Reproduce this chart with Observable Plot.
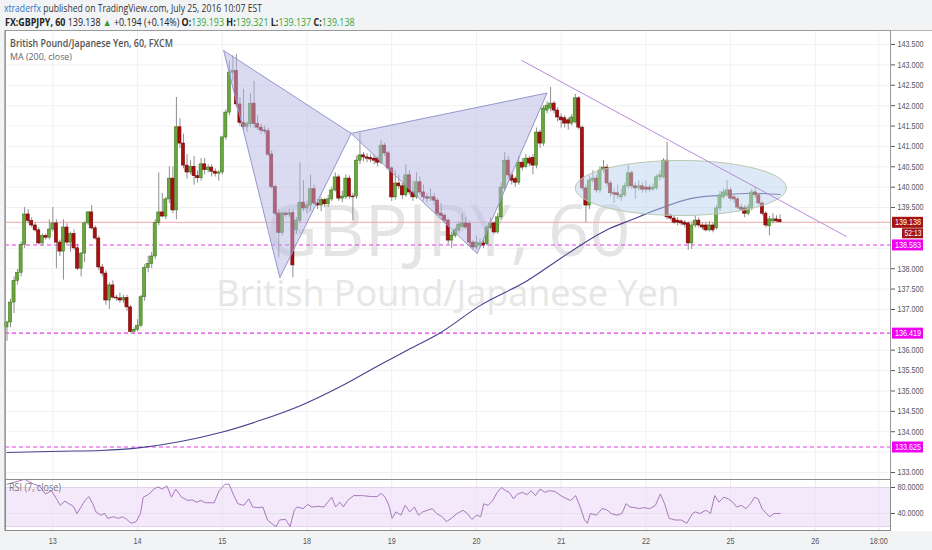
<!DOCTYPE html>
<html><head><meta charset="utf-8">
<script src="https://cdn.jsdelivr.net/npm/d3@7"></script>
<script src="https://cdn.jsdelivr.net/npm/@observablehq/plot@0.6"></script>
<style>
html,body{margin:0;padding:0;background:#f1f3f5;width:932px;height:550px;overflow:hidden;font-family:"Open Sans",sans-serif}
#wrap{position:relative;width:932px;height:550px}
.abs{position:absolute;left:0}
#bg{position:absolute;left:4px;top:30px;width:927px;height:500px;background:#fff;border-top:1px solid #b5b5b5;border-left:1px solid #b5b5b5;border-right:1px solid #d0d0d0}
</style></head><body><div id="wrap">
<div id="bg"></div>
<svg id="hdr" class="abs" style="top:0" width="932" height="30"></svg>
<div id="price" class="abs" style="top:30px"></div>
<div id="rsi" class="abs" style="top:479px"></div>
<svg id="lbl" class="abs" style="top:0;pointer-events:none" width="932" height="550"></svg>
</div>
<script>
// ---------- data ----------
const open = [136.56,136.68,137.17,137.70,137.90,138.58,139.33,139.17,139.06,138.94,138.62,138.80,138.76,138.96,139.11,138.64,138.42,139.01,138.64,138.85,138.50,138.00,138.37,139.11,139.38,138.99,138.74,138.03,137.88,137.22,137.59,137.29,137.27,137.22,137.28,137.05,136.45,136.50,136.60,137.30,138.02,138.12,138.30,139.12,139.38,139.28,139.70,140.21,139.43,141.47,141.07,140.53,140.36,140.50,140.27,140.22,140.56,140.42,140.48,140.38,140.33,140.36,141.22,141.83,142.81,142.85,142.03,141.58,141.48,141.55,142.05,141.55,141.46,141.39,141.37,140.80,140.00,139.35,138.88,139.35,139.32,139.36,138.95,139.18,139.62,139.48,139.55,139.95,139.60,139.55,139.68,139.58,139.70,139.92,140.24,139.72,139.75,140.21,139.77,139.77,140.65,140.78,140.73,140.72,140.70,140.70,140.60,141.02,140.83,140.46,139.75,140.09,140.02,139.80,140.29,139.87,139.75,140.12,139.87,139.75,139.72,139.75,139.67,139.35,139.30,139.18,138.69,138.81,138.94,139.03,139.11,139.10,138.64,138.52,138.57,138.62,138.60,139.00,139.11,138.89,139.26,139.97,140.65,140.29,140.20,140.11,140.60,140.50,140.70,140.72,140.53,141.34,141.07,141.88,141.93,142.05,141.88,141.71,141.69,141.64,141.56,141.59,142.18,141.46,139.97,139.55,140.16,140.21,139.92,140.41,140.48,140.09,139.85,139.85,139.75,139.80,140.02,140.34,140.02,139.97,140.02,139.99,139.99,139.94,139.97,140.24,140.24,140.65,139.30,139.23,139.18,139.16,139.13,139.11,138.62,139.06,139.18,139.06,139.06,138.94,139.06,138.99,139.48,139.75,139.80,139.92,139.75,139.70,139.50,139.48,139.35,139.48,139.87,139.80,139.60,139.35,139.04,139.16,139.21,139.193];
const high = [136.70,137.25,137.80,137.98,138.65,139.50,139.45,139.25,139.12,139.00,138.85,138.85,139.20,139.50,139.20,138.70,139.20,139.10,138.90,138.95,138.60,138.40,139.15,139.40,139.55,139.05,138.80,138.10,137.95,137.65,137.70,137.35,137.40,137.35,137.35,137.10,136.55,136.75,137.35,138.10,138.30,138.40,139.20,140.35,139.85,139.75,140.50,140.50,142.20,141.68,141.30,140.80,140.65,140.75,140.40,140.70,140.70,140.55,140.55,140.45,140.40,141.25,141.90,143.10,143.22,143.25,142.20,142.40,141.60,142.30,142.60,141.75,141.55,141.50,141.45,140.90,140.05,139.45,139.40,139.40,139.45,139.45,139.25,140.60,140.16,139.65,140.30,140.05,139.70,139.75,139.72,139.80,140.00,140.35,140.30,139.90,140.30,140.28,139.85,140.75,141.32,140.85,140.82,140.80,140.80,140.75,141.15,141.08,140.88,140.50,140.40,140.30,140.10,140.55,140.40,140.15,140.35,140.25,140.05,139.85,139.95,139.85,139.72,139.60,139.35,139.22,138.90,139.00,139.15,139.35,139.25,139.15,138.68,138.80,138.72,138.70,139.05,139.25,139.15,139.35,140.10,140.85,140.75,140.35,140.25,140.75,140.70,140.80,140.75,140.80,141.45,141.40,142.00,142.10,142.45,142.10,141.95,141.80,141.75,141.70,141.78,142.28,142.22,141.50,140.05,140.25,140.40,140.30,140.50,140.65,140.55,140.15,139.95,140.05,139.95,140.10,140.55,140.40,140.10,140.15,140.10,140.15,140.05,140.08,140.30,140.40,140.70,141.10,139.35,139.28,139.25,139.20,139.18,139.15,139.15,139.30,139.25,139.12,139.12,139.15,139.12,139.55,139.90,139.95,140.16,139.98,139.82,139.75,139.58,139.55,139.58,139.95,140.00,139.85,139.65,139.40,139.28,139.35,139.30,139.321];
const low = [136.22,136.55,136.90,137.60,137.80,138.50,139.10,139.00,138.90,138.58,138.55,138.70,138.70,138.90,138.00,138.30,137.72,138.55,138.40,138.45,137.95,137.80,138.15,139.05,138.95,138.70,137.95,137.80,137.10,137.00,137.25,137.20,137.15,137.15,136.95,136.42,136.42,136.45,136.55,137.20,137.90,138.00,138.22,139.05,139.25,139.20,139.60,139.35,139.20,140.95,140.45,140.20,140.30,140.05,140.10,140.15,140.30,140.35,140.25,140.25,140.15,140.30,141.15,141.75,142.60,141.95,141.50,141.40,141.35,141.45,141.45,141.40,141.30,141.30,140.75,139.95,139.30,138.27,138.80,139.25,139.25,137.78,138.85,139.10,139.40,139.35,139.40,139.55,139.45,139.40,139.50,139.50,139.65,139.88,139.65,139.62,139.70,139.70,139.18,139.70,140.55,140.62,140.60,140.60,140.55,140.50,140.55,140.75,140.40,139.65,139.68,139.95,139.70,139.75,139.80,139.65,139.70,139.80,139.65,139.62,139.65,139.55,139.30,139.20,139.10,138.60,138.50,138.75,138.90,139.00,138.95,138.58,138.45,138.46,138.50,138.50,138.55,138.95,138.85,138.85,139.20,139.90,140.20,140.05,140.00,140.05,140.40,140.45,140.50,140.30,140.45,140.95,141.00,141.80,141.85,141.80,141.60,141.45,141.45,141.40,141.50,141.55,141.40,139.90,139.13,139.45,140.10,139.85,139.85,140.35,140.00,139.75,139.60,139.70,139.65,139.75,139.95,139.95,139.70,139.90,139.85,139.85,139.88,139.90,139.92,140.15,140.20,139.20,139.18,139.08,139.05,139.05,139.00,138.45,138.47,139.00,139.00,138.95,138.90,138.90,138.88,138.95,139.40,139.70,139.75,139.65,139.60,139.45,139.40,139.25,139.30,139.42,139.72,139.55,139.30,139.00,138.81,139.10,139.12,139.137];
const close = [136.68,137.17,137.70,137.90,138.58,139.33,139.17,139.06,138.94,138.62,138.80,138.76,138.96,139.11,138.64,138.42,139.01,138.64,138.85,138.50,138.00,138.37,139.11,139.38,138.99,138.74,138.03,137.88,137.22,137.59,137.29,137.27,137.22,137.28,137.05,136.45,136.50,136.60,137.30,138.02,138.12,138.30,139.12,139.38,139.28,139.70,140.21,139.43,141.47,141.07,140.53,140.36,140.50,140.27,140.22,140.56,140.42,140.48,140.38,140.33,140.36,141.22,141.83,142.81,142.85,142.03,141.58,141.48,141.55,142.05,141.55,141.46,141.39,141.37,140.80,140.00,139.35,138.88,139.35,139.32,139.36,138.08,139.18,139.62,139.48,139.55,139.95,139.60,139.55,139.68,139.58,139.70,139.92,140.24,139.72,139.77,140.21,139.77,139.75,140.65,140.78,140.73,140.70,140.68,140.65,140.60,141.02,140.83,140.46,139.75,140.09,140.02,139.80,140.29,139.87,139.75,140.12,139.87,139.75,139.72,139.75,139.67,139.35,139.30,139.18,138.69,138.81,138.94,139.08,139.11,139.01,138.64,138.52,138.64,138.62,138.57,139.01,139.11,138.89,139.26,139.99,140.65,140.29,140.16,140.11,140.60,140.48,140.70,140.58,140.53,141.34,141.07,141.93,142.00,142.05,141.88,141.71,141.64,141.56,141.56,141.71,142.18,141.46,139.97,139.55,140.16,140.21,139.92,140.41,140.48,140.09,139.85,139.82,139.80,139.80,140.02,140.34,140.02,139.97,140.02,139.94,139.94,139.94,139.99,140.24,140.29,140.65,139.26,139.23,139.13,139.13,139.11,139.08,138.62,139.06,139.18,139.06,139.01,138.94,139.06,138.94,139.48,139.80,139.87,139.92,139.72,139.70,139.50,139.45,139.35,139.50,139.87,139.80,139.60,139.35,139.06,139.21,139.21,139.16,139.138];

const maK = [0,15,26.5,37.8,49.2,60.5,71.8,83.1,94.5,105.8,114.3,122.8,134.1,147.5,156.8,163.3,170.9,176.6,185.1,193.6,202.1,210.6,219];
const maV = [133.49,133.52,133.54,133.61,133.76,133.98,134.28,134.64,135.11,135.65,136.04,136.43,137.10,137.71,138.25,138.62,138.99,139.19,139.48,139.72,139.80,139.85,139.82];

const rsiK = [0,1.7,5,7.6,9.2,10.9,12.6,14.3,15.1,16.4,17.6,18.8,19.8,21,22.1,23.2,24.3,25.2,26.5,27.7,28.5,30.2,31.5,32.7,33.9,35.2,36.6,37.8,38.6,40.3,41.6,42.8,44,45.3,46.6,47.8,49.5,51.2,52.4,53.7,55,56.2,58.7,60.1,61.8,62.9,64.3,65.4,67.1,68.5,69.6,71.3,72.5,73.8,75.5,76.3,77.2,78.9,80.2,81.4,82.2,83.9,85.2,86.4,88.1,89.8,90.9,92,93.1,94.3,95.3,96.5,98.2,100.7,103.2,104.9,106,107.1,108.2,109.1,110.2,111.6,112.8,114.1,115.4,116.6,117.8,119.1,120.5,121.7,123.3,124.5,125.9,127.5,129.2,130.4,131.7,133.1,134.2,135.1,136.3,137.6,138.9,140.1,141.3,142.3,143.5,144.6,146,147.3,148.5,149.7,151,152.4,153.5,155.2,156.9,158.6,159.7,161.1,162.4,163.6,164.4,165.3,167,168.6,169.8,171.2,172.8,174.2,175.4,176.5,177.9,179.2,180.4,182.1,183.7,185.1,186.3,187.6,189.3,191,192.6,194.2,195,196.3,198,199.3,200.5,201.7,203,204.4,205.6,206.7,208,209.4,210.6,211.8,212.8,213.9,215.1,216.1,217.3,219];
const rsiV = [85,87.5,92.5,85,82.5,70,75,60,52.5,59,55,51,40,50,60,66,55,42.5,37.5,40,32.5,35,32.5,35,31,25,27.5,40,65,70,77.5,81,77.5,82.5,65,77.5,65,60,61,57.5,60,56.5,56.5,75,85,85,67.5,55,52.5,62.5,50,49,50,30,22.5,20,30,31,20,45,50,47.5,54,50,51,50,57.5,65,50,57.5,50,60,67.5,67.5,66,66,71,65,52.5,32.5,42.5,37.5,52.5,42.5,50,37.5,42.5,45,47.5,40,35,27.5,32.5,40,45,40,31,37.5,35,55,52.5,60,72.5,80,75,72.5,62.5,70,72.5,69,75,67.5,77.5,72.5,75,74,67.5,62.5,60,67.5,50,30,25,40,37.5,47.5,46,40,37.5,40,55,50,49,47.5,49,47.5,52.5,70,55,32.5,30,30,25,40,42.5,40,45,40,67.5,57.5,65,62.5,57.5,50,52.5,47.5,55,65,62.5,47.5,40,35,40,40];

const priceTicks = [133,133.5,134,134.5,135,135.5,136,136.5,137,137.5,138,138.5,139,139.5,140,140.5,141,141.5,142,142.5,143,143.5];
const dayTicks = [13,37,61,85,109,133,157,181,205,229,247];
const dayLabels = ["13","14","15","18","19","20","21","22","25","26","18:00"];
const levels = [138.583,136.419,133.625];
const lastPrice = 139.138;
const countdown = "52:13";
const patternK = [61.4,77.3,97.5,133.2,153.0];
const patternP = [143.35,137.78,141.32,138.37,142.31];
const trendK = [145.8,237.8];
const trendP = [143.11,138.79];
const zone = {k:190.9, p:139.98, rk:29.9, rp:0.675};
const rsiTicks = [40,80];

// ---------- build ----------
const xDomain = [-0.42, 250.3];
const yDomain = [132.828, 143.844];
const pxK = (890-5)/(xDomain[1]-xDomain[0]);
const pxP = 449/(yDomain[1]-yDomain[0]);
const xMax = xDomain[1];
const candles = open.map((o,i)=>({k:i,o,h:high[i],l:low[i],c:close[i]}));
const ups = candles.filter(d=>d.c>=d.o), downs = candles.filter(d=>d.c<d.o);
const ma = maK.map((k,i)=>({k,v:maV[i]}));
const rsi = rsiK.map((k,i)=>({k,v:rsiV[i]}));
const pts = patternK.map((k,i)=>({k,p:patternP[i]}));
const tri1 = [pts[0],pts[1],pts[2],pts[0]];
const tri2 = [pts[2],pts[3],pts[4],pts[2]];
const trend = trendK.map((k,i)=>({k,p:trendP[i]}));
const ell = d3.range(0,73).map(i=>{const a=i/72*2*Math.PI;return {k:zone.k+zone.rk*Math.cos(a),p:zone.p+zone.rp*Math.sin(a)};});
// axis labels hidden where a price tag covers them (as in the reference)
const tagCenters = [...levels, lastPrice, lastPrice - 11/pxP];
const labelTicks = priceTicks.filter(t => tagCenters.every(v => Math.abs(t - v)*pxP > 10.5));

const baseStyle = {background:"transparent",overflow:"visible",fontFamily:"'Liberation Sans',Arial,sans-serif",fontSize:"9px",color:"#555"};

const pricePlot = Plot.plot({
  width:932,height:449,marginLeft:5,marginRight:42,marginTop:0,marginBottom:0,
  style:baseStyle,
  x:{domain:xDomain,axis:null},
  y:{domain:yDomain,axis:"right",ticks:labelTicks,tickFormat:d=>d.toFixed(3),tickSize:4,tickPadding:3,label:null},
  marks:[
    Plot.ruleY(priceTicks,{y:d=>d,stroke:"#f0f1f3",strokeWidth:1}),
    Plot.ruleX(dayTicks,{x:d=>d,stroke:"#f0f1f3",strokeWidth:1}),
    Plot.text(["GBPJPY, 60"],{frameAnchor:"middle",text:d=>d,fontSize:72,fontFamily:"Open Sans",fill:"#e4e4e4",dy:-22}),
    Plot.text(["British Pound/Japanese Yen"],{frameAnchor:"middle",text:d=>d,fontSize:36,fontFamily:"Open Sans",fill:"#e6e6e6",dy:39}),
    Plot.ruleY([lastPrice],{y:d=>d,stroke:"#f0a8a8",strokeWidth:1}),
    Plot.ruleY(levels,{y:d=>d,stroke:"#e838e8",strokeWidth:1.1,strokeDasharray:"4,3"}),
    Plot.line(ma,{x:"k",y:"v",stroke:"#45428f",strokeWidth:1.1,curve:"monotone-x"}),
    Plot.ruleX(candles,{x:"k",y1:"l",y2:"h",stroke:"#8e8e8e",strokeWidth:1}),
    Plot.rect(ups,{x1:d=>d.k-0.44,x2:d=>d.k+0.44,y1:"o",y2:"c",fill:"#6aa53d",stroke:"#3f7d22",strokeWidth:0.6}),
    Plot.rect(downs,{x1:d=>d.k-0.44,x2:d=>d.k+0.44,y1:"o",y2:"c",fill:"#a80f0f",stroke:"#720505",strokeWidth:0.6}),
    Plot.line(tri1,{x:"k",y:"p",fill:"#b6b6e4",fillOpacity:0.5,stroke:"#9595cc",strokeWidth:1,curve:"linear"}),
    Plot.line(tri2,{x:"k",y:"p",fill:"#b6b6e4",fillOpacity:0.5,stroke:"#9595cc",strokeWidth:1,curve:"linear"}),
    Plot.line(ell,{x:"k",y:"p",fill:"#bcd3ee",fillOpacity:0.5,stroke:"#b9c8b0",strokeWidth:1,curve:"linear"}),
    Plot.line(trend,{x:"k",y:"p",stroke:"#b98ad8",strokeWidth:1}),
    Plot.ruleX([xMax],{x:d=>d,stroke:"#8a8a8a",strokeWidth:1}),
    Plot.frame({stroke:"#9a9a9a"}),
    Plot.ruleY(levels,{y:d=>d,x1:()=>xMax+2/pxK,x2:()=>xMax+33/pxK,stroke:"#f000f0",strokeWidth:11}),
    Plot.text(levels,{y:d=>d,frameAnchor:"right",dx:17.5,text:d=>d.toFixed(3),fill:"white",textAnchor:"middle"}),
    Plot.ruleY([lastPrice],{y:d=>d,x1:()=>xMax+2/pxK,x2:()=>xMax+33/pxK,stroke:"#a31515",strokeWidth:11}),
    Plot.text([lastPrice],{y:d=>d,frameAnchor:"right",dx:17.5,text:d=>d.toFixed(3),fill:"white",textAnchor:"middle"}),
    Plot.ruleY([lastPrice],{y:d=>d,x1:()=>xMax+12/pxK,x2:()=>xMax+33/pxK,stroke:"#a31515",strokeWidth:10,dy:11}),
    Plot.text([lastPrice],{y:d=>d,frameAnchor:"right",dx:22.5,dy:11,text:()=>countdown,fill:"white",textAnchor:"middle",fontSize:8.5})
  ]
});
document.getElementById("price").appendChild(pricePlot);

const rsiPlot = Plot.plot({
  width:932,height:71,marginLeft:5,marginRight:42,marginTop:0,marginBottom:20,
  style:baseStyle,
  x:{domain:xDomain,axis:"bottom",ticks:dayTicks,tickFormat:d=>dayLabels[dayTicks.indexOf(d)],tickSize:0,tickPadding:7,label:null},
  y:{domain:[13.85,92.3],axis:"right",ticks:rsiTicks,tickFormat:d=>d.toFixed(4),tickSize:4,tickPadding:3,label:null},
  marks:[
    Plot.rect([0],{x1:()=>xDomain[0],x2:()=>xMax,y1:()=>20,y2:()=>80,fill:"#f4e8fb"}),
    Plot.ruleX(dayTicks,{x:d=>d,stroke:"#ece6f0",strokeWidth:1}),
    Plot.ruleY([20,80],{y:d=>d,stroke:"#e2d2ec",strokeWidth:1}),
    Plot.ruleY([40],{y:d=>d,stroke:"#e6e0ea",strokeWidth:1}),
    Plot.line(rsi,{x:"k",y:"v",stroke:"#a879bb",strokeWidth:1}),
    Plot.frame({stroke:"#8a8a8a"})
  ]
});
document.getElementById("rsi").appendChild(rsiPlot);

// ---------- header & labels ----------
const NS="http://www.w3.org/2000/svg";
function addText(svg,x,y,parts,opts){
  const g=document.createElementNS(NS,"g");
  const t=document.createElementNS(NS,"text");
  t.setAttribute("x",0);t.setAttribute("y",0);
  t.setAttribute("font-size",opts.size);t.setAttribute("font-family",opts.font||"Open Sans");
  t.setAttribute("fill",opts.fill||"#333");
  if(opts.weight)t.setAttribute("font-weight",opts.weight);
  t.setAttribute("xml:space","preserve");
  parts.forEach(p=>{const s=document.createElementNS(NS,"tspan");s.textContent=p.t;if(p.fill)s.setAttribute("fill",p.fill);if(p.w)s.setAttribute("font-weight",p.w);t.appendChild(s);});
  g.appendChild(t);svg.appendChild(g);
  const w=t.getComputedTextLength();
  const sx=(opts.len&&w>0)?opts.len/w:1;
  g.setAttribute("transform",`translate(${x},${y}) scale(${sx.toFixed(4)},1)`);
  return t;
}
const hdr=document.getElementById("hdr");
addText(hdr,4,11.5,[{t:"xtraderfx",fill:"#2a78c8"},{t:" published on TradingView.com, July 25, 2016 10:07 EST"}],{size:10,len:258});
const G="#3aa53a";
addText(hdr,5,25.5,[{t:"FX:GBPJPY, 60",w:"bold"},{t:" 139.138 "},{t:"▲",fill:"#2f9d2f"},{t:" +0.194 (+0.14%) "},{t:"O:",w:"bold"},{t:"139.193",fill:G},{t:" H:",w:"bold"},{t:"139.321",fill:G},{t:" L:",w:"bold"},{t:"139.137",fill:G},{t:" C:",w:"bold"},{t:"139.138",fill:G}],{size:10,len:350,fill:"#222"});
const lbl=document.getElementById("lbl");
addText(lbl,10,46.5,[{t:"British Pound/Japanese Yen, 60, FXCM"}],{size:10,weight:"600",fill:"#555",len:163});
addText(lbl,10,59.5,[{t:"MA (200, close)"}],{size:9.5,fill:"#666",len:62});
addText(lbl,9,490.5,[{t:"RSI (7, close)"}],{size:10,fill:"#777",len:52});

function squeeze(root,f){
  root.querySelectorAll("text").forEach(t=>{
    const fs=parseFloat(getComputedStyle(t).fontSize);
    if(fs>20)return;
    const w=t.getComputedTextLength();
    if(w>0){t.setAttribute("textLength",(w*f).toFixed(1));t.setAttribute("lengthAdjust","spacingAndGlyphs");}
  });
}
squeeze(pricePlot,0.8);
squeeze(rsiPlot,0.8);
</script>
</body></html>
